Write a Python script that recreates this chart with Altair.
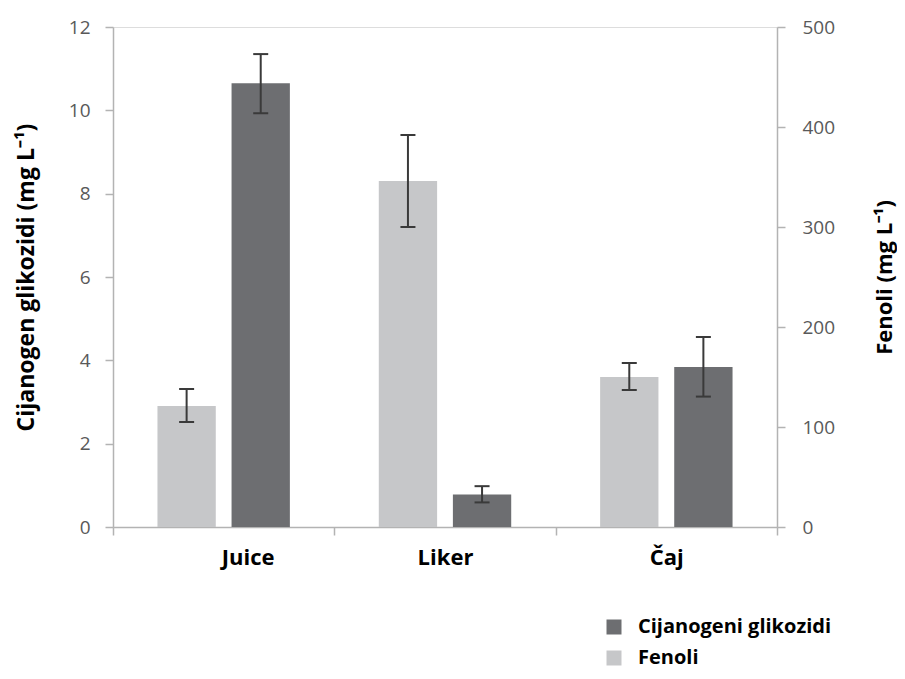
import altair as alt
import pandas as pd

categories = ["Juice", "Liker", "Čaj"]
series = ["Cijanogeni glikozidi", "Fenoli"]
cij_mean = [10.65, 0.78, 3.84]
cij_low = [9.93, 0.59, 3.13]
cij_high = [11.35, 0.98, 4.56]
fen_mean = [121, 346, 150]
fen_low = [105, 300, 137]
fen_high = [138, 392, 164]
left_ticks = [0, 2, 4, 6, 8, 10, 12]
right_ticks = [0, 100, 200, 300, 400, 500]

rows = []
for i, c in enumerate(categories):
    rows.append(dict(kat=c, serija=series[0], v=cij_mean[i], lo=cij_low[i], hi=cij_high[i]))
    rows.append(dict(kat=c, serija=series[1], v=fen_mean[i], lo=fen_low[i], hi=fen_high[i]))
df = pd.DataFrame(rows)

FONT = "Open Sans"
DARK = "#6d6e71"
LIGHT = "#c6c7c9"
AX = "#b3b3b3"
ERR = "#3a3a3a"

x_axis = alt.Axis(
    title=None, tickBand="extent", labelAngle=0, labelFont=FONT, labelFontSize=22,
    labelFontWeight="bold", labelColor="black", tickSize=8, tickColor=AX, tickWidth=1.5,
    domainColor=AX, domainWidth=1.5, labelPadding=12, grid=False,
    labelOffset=alt.condition("datum.value == 'Juice'", alt.value(24), alt.value(0)),
)
x_enc = alt.X("kat:N", sort=categories, scale=alt.Scale(paddingInner=0, paddingOuter=0), axis=x_axis)
xo_enc = alt.XOffset("serija:N", scale=alt.Scale(domain=["Fenoli", "Cijanogeni glikozidi"],
                                                 paddingInner=0.213, paddingOuter=0.6))
color_enc = alt.Color("serija:N", scale=alt.Scale(domain=series, range=[DARK, LIGHT]),
                      legend=alt.Legend(orient="none", legendX=491, legendY=590, title=None,
                                        symbolType="square", symbolSize=225, symbolStrokeWidth=0,
                                        labelFont=FONT, labelFontSize=20, labelFontWeight="bold",
                                        labelColor="black", labelOffset=14, rowPadding=11,
                                        labelLimit=0))

left_scale = alt.Scale(domain=[0, 12], nice=False)
right_scale = alt.Scale(domain=[0, 500], nice=False)

def mk_axis(orient, values, title, size, tpad, lpad):
    return alt.Axis(orient=orient, values=values, title=title, titleFont=FONT, titleFontSize=size,
                    titleFontWeight="bold", titleColor="black", titleAngle=270, titlePadding=tpad,
                    labelFont=FONT, labelFontSize=19, labelColor="#595959", labelPadding=lpad,
                    tickSize=8, tickColor=AX, tickWidth=1.5, domainColor=AX, domainWidth=1.5, grid=False)

left_axis = mk_axis("left", left_ticks, "Cijanogen glikozidi (mg L⁻¹)", 23, 30, 15)
right_axis = mk_axis("right", right_ticks, "Fenoli (mg L⁻¹)", 22, 62, 17)

def side(name, scale, axis):
    base = alt.Chart(df).transform_filter(alt.datum.serija == name)
    bar = base.mark_bar().encode(x=x_enc, xOffset=xo_enc,
                                 y=alt.Y("v:Q", scale=scale, axis=axis), color=color_enc)
    rule = base.mark_rule(color=ERR, strokeWidth=2).encode(
        x=x_enc, xOffset=xo_enc, y=alt.Y("lo:Q", scale=scale, axis=axis), y2="hi:Q")
    cap_hi = base.mark_tick(color=ERR, thickness=2, size=15, opacity=1).encode(
        x=x_enc, xOffset=xo_enc, y=alt.Y("hi:Q", scale=scale, axis=axis))
    cap_lo = base.mark_tick(color=ERR, thickness=2, size=15, opacity=1).encode(
        x=x_enc, xOffset=xo_enc, y=alt.Y("lo:Q", scale=scale, axis=axis))
    return alt.layer(bar, rule, cap_hi, cap_lo)

chart = alt.layer(
    side(series[0], left_scale, left_axis),
    side(series[1], right_scale, right_axis),
).resolve_scale(y="independent").properties(
    width=664, height=500,
    autosize=alt.AutoSizeParams(type="none"),
    padding={"left": 105, "top": 19, "right": 120, "bottom": 144},
).configure_view(stroke=None).configure(font=FONT, background="white")

chart.save("out.html", embed_options={"renderer": "svg", "actions": False})
